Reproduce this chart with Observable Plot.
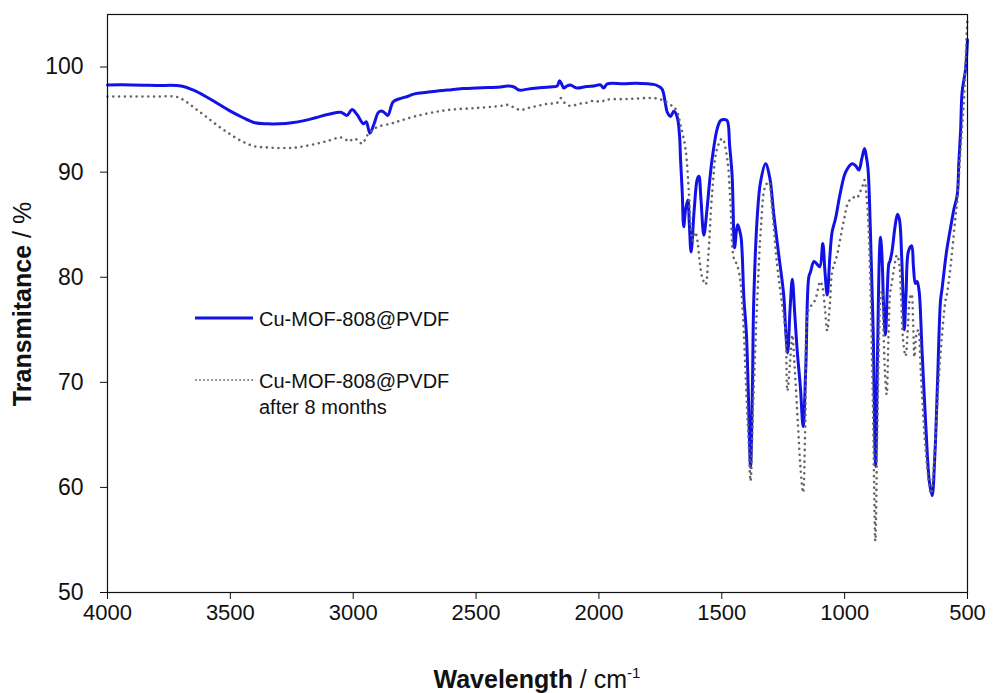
<!DOCTYPE html>
<html>
<head>
<meta charset="utf-8">
<script src="https://cdn.jsdelivr.net/npm/d3@7"></script>
<script src="https://cdn.jsdelivr.net/npm/@observablehq/plot@0.6"></script>
<style>
  html, body { margin: 0; padding: 0; background: #fff; }
  #chart { width: 994px; height: 693px; }
</style>
</head>
<body>
<div id="chart"></div>
<script>
// FTIR spectra of the membrane: fresh and after 8 months of storage.
const seriesNames = ["Cu-MOF-808@PVDF", "Cu-MOF-808@PVDF after 8 months"];

// Fresh membrane: wavenumber (cm-1) and transmittance (%)
const freshWave = [
  4000, 3900, 3800, 3700, 3650, 3600, 3550, 3500, 3450, 3400, 3350, 3300, 3250, 3200, 3150, 3100,
  3050, 3025, 3005, 2985, 2958, 2947, 2932, 2915, 2897, 2882, 2870, 2859, 2845, 2837, 2810, 2780,
  2750, 2700, 2650, 2600, 2550, 2500, 2450, 2400, 2373, 2345, 2330, 2319, 2290, 2251, 2200, 2170,
  2160, 2150, 2143, 2130, 2116, 2100, 2088, 2050, 2021, 1994, 1981, 1966, 1900, 1850, 1800, 1778,
  1760, 1743, 1730, 1722, 1709, 1695, 1682, 1672, 1668, 1661, 1655, 1647, 1638, 1632, 1625, 1612,
  1600, 1593, 1585, 1573, 1560, 1550, 1539, 1519, 1505, 1490, 1478, 1468, 1458, 1448, 1440, 1435,
  1428, 1421, 1410, 1400, 1392, 1383, 1375, 1370, 1355, 1342, 1322, 1305, 1288, 1268, 1248, 1240,
  1232, 1222, 1213, 1203, 1193, 1180, 1169, 1158, 1146, 1139, 1125, 1114, 1101, 1089, 1080, 1071,
  1060, 1051, 1037, 1017, 996, 969, 955, 942, 930, 919, 912, 905, 895, 884, 874, 866,
  858, 854, 848, 841, 834, 826, 820, 816, 807, 795, 785, 777, 768, 760, 757, 750,
  740, 727, 720, 712, 705, 697, 685, 670, 655, 644, 633, 622, 610, 603, 585, 569,
  555, 542, 535, 528, 522, 508, 500
];
const freshT = [
  98.3, 98.3, 98.25, 98.2, 97.8, 97.2, 96.5, 95.8, 95.2, 94.7, 94.6, 94.6, 94.7, 94.9, 95.2, 95.5,
  95.7, 95.4, 95.95, 95.5, 94.6, 94.8, 93.7, 94.6, 95.7, 95.8, 95.6, 95.4, 96.3, 96.7, 97.0, 97.2,
  97.45, 97.6, 97.75, 97.85, 97.95, 98.0, 98.05, 98.1, 98.2, 98.1, 97.85, 97.8, 97.9, 98.0, 98.1, 98.2,
  98.7, 98.3, 98.0, 98.2, 98.3, 98.1, 98.0, 98.15, 98.2, 98.3, 98.0, 98.4, 98.4, 98.45, 98.4, 98.35,
  98.2, 97.9, 96.6, 95.7, 95.3, 95.8, 95.3, 93.5, 91.3, 88.1, 84.8, 86.5, 87.35, 85.0, 82.4, 86.5,
  89.3, 89.6, 87.5, 84.0, 86.5, 89.0, 91.3, 94.1, 94.9, 95.0, 94.9, 92.5, 89.7, 82.8, 84.5, 85.0,
  84.5, 83.7, 78.0, 74.7, 69.0, 61.9, 70.0, 77.7, 86.0, 89.1, 90.8, 89.5, 85.9, 82.1, 78.3, 75.0,
  72.8, 77.0, 79.8, 76.5, 73.0, 69.5, 65.8, 71.5, 80.0, 80.5, 81.5, 81.3, 81.0, 83.2, 80.5, 78.3,
  82.0, 84.3, 85.6, 88.1, 90.0, 90.8, 90.6, 90.2, 91.3, 92.25, 91.5, 90.35, 84.3, 75.0, 62.0, 73.0,
  82.5, 83.8, 82.0, 77.0, 74.5, 79.0, 81.3, 81.5, 82.5, 84.8, 86.0, 85.5, 82.0, 76.5, 75.0, 78.5,
  82.5, 83.0, 81.0, 79.4, 79.6, 78.7, 73.0, 66.0, 60.5, 59.2, 63.0, 70.0, 77.7, 79.0, 82.5, 84.7,
  86.5, 87.8, 91.0, 94.0, 97.6, 99.8, 102.6
];

// Aged membrane (after 8 months): wavenumber (cm-1) and transmittance (%)
const agedWave = [
  4000, 3900, 3800, 3716, 3680, 3640, 3600, 3550, 3500, 3450, 3400, 3350, 3300, 3250, 3215, 3150,
  3100, 3052, 3030, 3018, 2998, 2980, 2963, 2943, 2920, 2902, 2850, 2808, 2750, 2673, 2600, 2500,
  2400, 2373, 2340, 2319, 2290, 2250, 2211, 2170, 2156, 2140, 2116, 2080, 2050, 2021, 1994, 1966,
  1900, 1850, 1800, 1763, 1736, 1709, 1695, 1681, 1668, 1648, 1634, 1627, 1618, 1608, 1598, 1590,
  1580, 1566, 1555, 1539, 1519, 1498, 1478, 1465, 1451, 1438, 1424, 1417, 1410, 1398, 1390, 1383,
  1372, 1356, 1340, 1325, 1309, 1295, 1275, 1255, 1241, 1233, 1222, 1213, 1205, 1190, 1180, 1169,
  1160, 1146, 1132, 1119, 1099, 1090, 1080, 1071, 1060, 1051, 1031, 1004, 984, 965, 950, 940,
  930, 919, 912, 905, 895, 885, 875, 868, 860, 854, 848, 842, 836, 829, 822, 815,
  807, 798, 787, 779, 770, 762, 752, 742, 735, 728, 721, 716, 708, 700, 690, 675,
  660, 649, 642, 630, 615, 600, 590, 583, 573, 563, 550, 542, 529, 515, 508, 500
];
const agedT = [
  97.2, 97.2, 97.2, 97.15, 96.7, 96.0, 95.3, 94.4, 93.6, 92.9, 92.45, 92.35, 92.3, 92.3, 92.4, 92.7,
  93.0, 93.3, 93.1, 92.9, 93.2, 93.0, 92.7, 93.5, 94.0, 94.3, 94.6, 94.9, 95.3, 95.7, 95.95, 96.1,
  96.3, 96.4, 96.1, 95.9, 96.1, 96.3, 96.5, 96.6, 97.05, 96.6, 96.3, 96.5, 96.6, 96.8, 96.7, 96.9,
  96.95, 97.0, 97.05, 97.0, 96.8, 96.4, 96.2, 95.7, 94.5, 92.25, 88.1, 85.0, 83.5, 84.3, 83.3, 81.5,
  80.0, 79.3, 82.0, 88.1, 92.25, 93.2, 91.3, 87.2, 81.8, 81.2, 79.6, 77.7, 74.6, 68.0, 64.0, 60.6,
  68.0, 77.7, 85.0, 88.5, 89.1, 86.5, 81.2, 77.5, 74.9, 69.2, 72.0, 74.5, 72.0, 66.0, 62.0, 59.5,
  66.0, 77.0, 77.4, 77.9, 79.6, 79.0, 77.0, 74.9, 77.5, 80.5, 82.1, 85.3, 87.2, 87.6, 87.5, 88.0,
  88.45, 89.25, 88.0, 85.9, 79.0, 68.0, 54.9, 64.0, 74.0, 78.0, 78.7, 75.0, 71.0, 68.85, 74.0, 78.5,
  79.6, 81.0, 82.1, 81.5, 78.0, 74.0, 72.5, 75.5, 78.0, 78.4, 75.5, 72.4, 74.5, 75.0, 71.0, 65.0,
  61.0, 59.4, 60.5, 65.0, 71.0, 75.5, 77.7, 78.5, 80.2, 82.4, 85.5, 87.2, 91.9, 96.7, 100.5, 104.8
];

const xTicks = [4000, 3500, 3000, 2500, 2000, 1500, 1000, 500];
const yTicks = [50, 60, 70, 80, 90, 100];

const fresh = freshWave.map((w, i) => ({w, t: freshT[i]}));
const aged = agedWave.map((w, i) => ({w, t: agedT[i]}));

const FONT = "'Liberation Sans', Arial, Helvetica, sans-serif";
const BLUE = "#1212e6";
const GREY = "#666666";

const chart = Plot.plot({
  width: 994,
  height: 693,
  marginLeft: 107,
  marginRight: 27,
  marginTop: 14,
  marginBottom: 101,
  style: {fontFamily: FONT, fontSize: "21px", color: "#111", background: "#fff"},
  x: {domain: [4000, 500], label: null},
  y: {domain: [50, 105], label: null},
  marks: [
    Plot.axisX({ticks: xTicks, tickSize: 7, tickPadding: 5, tickFormat: d => String(d), fontSize: 22, label: null}),
    Plot.axisY({ticks: yTicks, tickSize: 7, tickPadding: 17, tickFormat: d => String(d), fontSize: 23, label: null}),
    Plot.line(fresh, {x: "w", y: "t", stroke: BLUE, strokeWidth: 3, curve: "catmull-rom"}),
    Plot.line(aged, {x: "w", y: "t", stroke: GREY, strokeWidth: 2.6, strokeDasharray: "0.01 5.8",
      strokeLinecap: "round", curve: "catmull-rom"}),
    Plot.frame({stroke: "#111", strokeWidth: 1.2})
  ]
});

document.getElementById("chart").appendChild(chart);

// Axis titles and legend, added on top of the plot's SVG
const svg = d3.select(chart);

const yTitle = svg.append("text")
  .attr("transform", "translate(31,304) rotate(-90)")
  .attr("text-anchor", "middle")
  .attr("font-family", FONT)
  .attr("font-size", 25)
  .attr("fill", "#111");
yTitle.append("tspan").attr("font-weight", "bold").text("Transmitance");
yTitle.append("tspan").text(" / %");

const xTitle = svg.append("text")
  .attr("x", 537)
  .attr("y", 688)
  .attr("text-anchor", "middle")
  .attr("font-family", FONT)
  .attr("font-size", 25)
  .attr("fill", "#111");
xTitle.append("tspan").attr("font-weight", "bold").text("Wavelength");
xTitle.append("tspan").text(" / cm");
xTitle.append("tspan").attr("font-size", 15).attr("dy", -10).text("-1");

const legend = svg.append("g")
  .attr("font-family", FONT)
  .attr("font-size", 20)
  .attr("text-anchor", "start")
  .attr("fill", "#111");
legend.append("line").attr("x1", 195).attr("x2", 253).attr("y1", 318).attr("y2", 318)
  .attr("stroke", BLUE).attr("stroke-width", 3);
legend.append("text").attr("x", 259).attr("y", 326).attr("text-anchor", "start").text(seriesNames[0]);
legend.append("line").attr("x1", 196).attr("x2", 253).attr("y1", 380).attr("y2", 380)
  .attr("stroke", GREY).attr("stroke-width", 1.8).attr("stroke-dasharray", "0.01 4")
  .attr("stroke-linecap", "round");
const lt = legend.append("text").attr("x", 259).attr("y", 388).attr("text-anchor", "start");
lt.append("tspan").text("Cu-MOF-808@PVDF");
lt.append("tspan").attr("x", 259).attr("dy", 26).text("after 8 months");
</script>
</body>
</html>
